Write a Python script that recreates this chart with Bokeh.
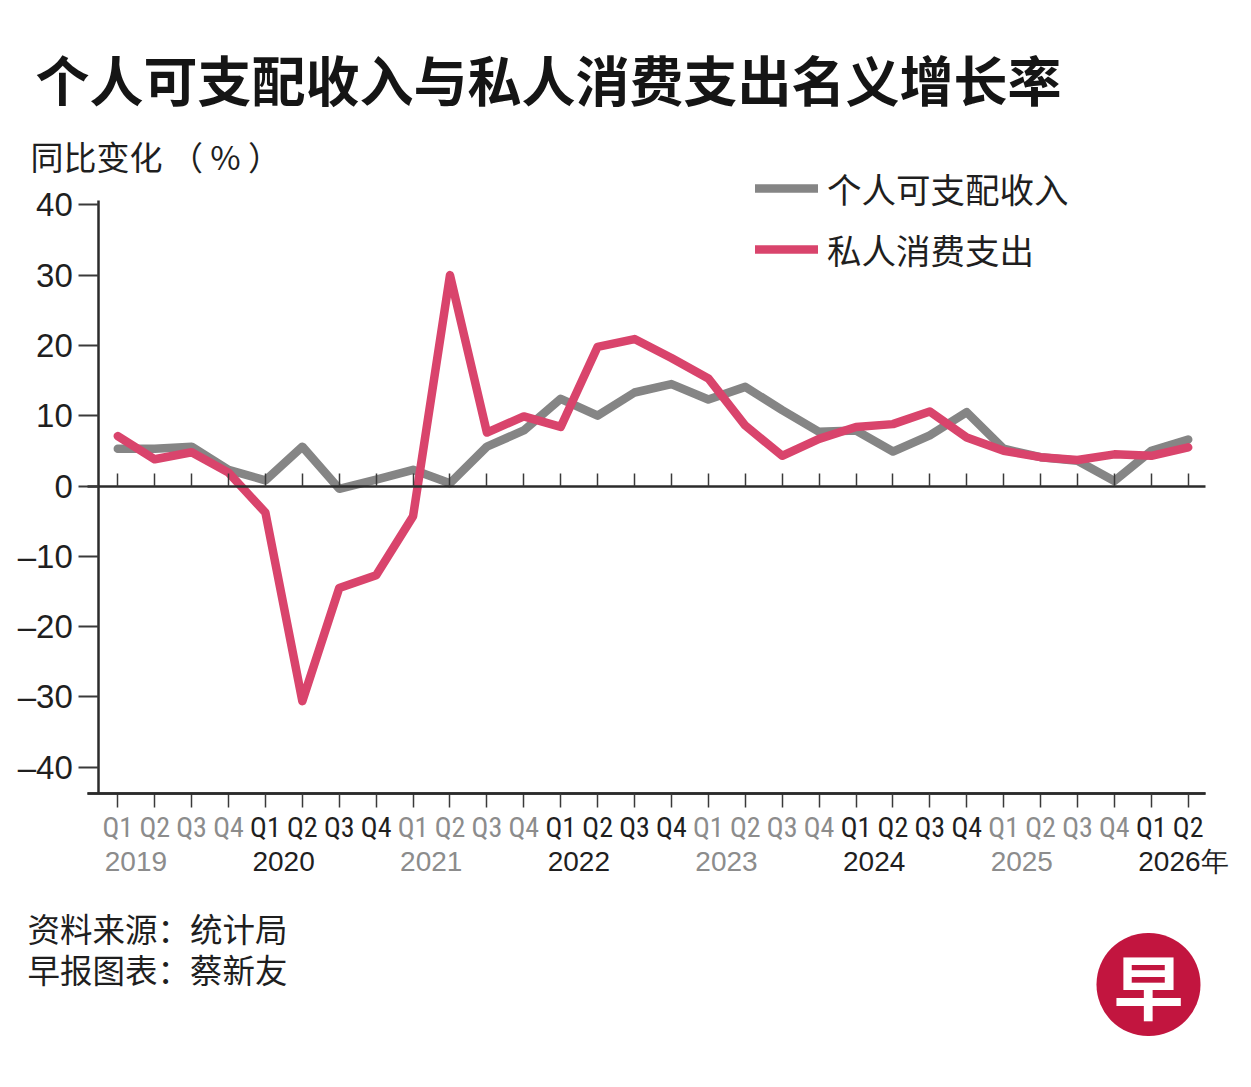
from bokeh.plotting import figure
from bokeh.models import (Label, ColumnDataSource, Legend, LegendItem,
                          FixedTicker, LinearAxis, Range1d)
from bokeh.core.properties import value
from bokeh.embed import file_html
from bokeh.resources import INLINE

# ---------------- data ----------------
quarters = ["Q1", "Q2", "Q3", "Q4"] * 7 + ["Q1", "Q2"]
years = ["2019", "2020", "2021", "2022", "2023", "2024", "2025", "2026年"]
disposable_income = [5.3, 5.3, 5.6, 2.3, 0.8, 5.6, -0.4, 0.9, 2.3, 0.4,
                     5.6, 7.9, 12.4, 10.0, 13.3, 14.5, 12.3, 14.1, 10.8, 7.7,
                     7.9, 4.9, 7.2, 10.5, 5.3, 4.1, 3.6, 0.7, 5.0, 6.6]
private_consumption = [7.1, 3.8, 4.8, 1.9, -3.8, -30.6, -14.5, -12.7, -4.3, 30.0,
                       7.6, 9.9, 8.4, 19.8, 20.9, 18.2, 15.3, 8.6, 4.3, 6.7,
                       8.4, 8.8, 10.6, 6.9, 5.0, 4.1, 3.7, 4.5, 4.3, 5.5]
y_ticks = [-40, -30, -20, -10, 0, 10, 20, 30, 40]
title_text = "个人可支配收入与私人消费支出名义增长率"
y_unit_text = "同比变化 （ % ）"
series_names = ["个人可支配收入", "私人消费支出"]
source_lines = ["资料来源：统计局", "早报图表：蔡新友"]

# ---------------- styles / layout ----------------
W, H = 1235, 1071
GRAY_LINE = "#858585"
PINK_LINE = "#d9446c"
DARK = "#1f1f1f"
LIGHT = "#8c8c8c"
AXIS = "#2b2b2b"
CJK = "Noto Sans CJK SC"
NUM = "Liberation Sans"
NARROW = ("'Liberation Sans Narrow', 'Noto Sans Condensed', 'Roboto Condensed', "
          "'Liberation Sans', sans-serif")

# pixel geometry of the plotting area (canvas covers whole figure)
PX0, DX = 117.3, 36.91        # x pixel of first quarter, pixels per quarter
PY0, DY = 485.5, 7.03         # y pixel of zero, pixels per unit


def xv(px):
    return (px - PX0) / DX


def yv(py):
    return (PY0 - py) / DY


idx = list(range(len(quarters)))
year_of_idx = [i // 4 for i in idx]
gray_idx = [i for i in idx if year_of_idx[i] % 2 == 0]
dark_idx = [i for i in idx if year_of_idx[i] % 2 == 1]
year_x = [4 * k for k in range(len(years))]
year_colors = [LIGHT if k % 2 == 0 else DARK for k in range(len(years))]

p = figure(width=W, height=H, output_backend="svg", toolbar_location=None,
           x_range=Range1d(xv(0), xv(W)), y_range=Range1d(yv(H), yv(0)),
           x_axis_type=None, y_axis_type=None, min_border=0)
p.outline_line_color = None
p.background_fill_color = "white"
p.border_fill_color = "white"

y_lo, y_hi = yv(793), yv(200)
x_lo, x_hi = xv(87), xv(1205)

# y axis
yaxis = LinearAxis(ticker=FixedTicker(ticks=y_ticks), fixed_location=xv(98.3),
                   bounds=(y_lo, y_hi),
                   major_label_overrides={t: (f"–{abs(t)}" if t < 0 else str(t)) for t in y_ticks})
yaxis.axis_line_width = 2.5
yaxis.axis_line_color = AXIS
yaxis.major_tick_line_color = "#3a3a3a"
yaxis.major_tick_line_width = 1.8
yaxis.major_tick_out = 20
yaxis.major_tick_in = 0
yaxis.minor_tick_out = 0
yaxis.minor_tick_in = 0
yaxis.major_label_standoff = 6
yaxis.major_label_text_font = NUM
yaxis.major_label_text_font_size = "33px"
yaxis.major_label_text_color = DARK
p.add_layout(yaxis, "left")


def quarter_axis(ticks, color):
    ax = LinearAxis(ticker=FixedTicker(ticks=ticks), fixed_location=y_lo,
                    bounds=(x_lo, x_hi),
                    major_label_overrides={i: quarters[i] for i in ticks})
    ax.axis_line_width = 2.5
    ax.axis_line_color = AXIS
    ax.major_tick_line_color = "#3a3a3a"
    ax.major_tick_line_width = 1.5
    ax.major_tick_out = 14
    ax.major_tick_in = 0
    ax.minor_tick_out = 0
    ax.minor_tick_in = 0
    ax.major_label_standoff = 3
    ax.major_label_text_font = NARROW
    ax.major_label_text_font_size = "28px"
    ax.major_label_text_color = color
    return ax


p.add_layout(quarter_axis(gray_idx, LIGHT), "below")
p.add_layout(quarter_axis(dark_idx, DARK), "below")

# zero line with upward quarter ticks
zaxis = LinearAxis(ticker=FixedTicker(ticks=idx), fixed_location=0,
                   bounds=(x_lo, x_hi), major_label_overrides={i: "" for i in idx})
zaxis.axis_line_width = 2.5
zaxis.axis_line_color = AXIS
zaxis.major_tick_line_color = "#3a3a3a"
zaxis.major_tick_line_width = 1.5
zaxis.major_tick_out = 0
zaxis.major_tick_in = 13
zaxis.minor_tick_out = 0
zaxis.minor_tick_in = 0
p.add_layout(zaxis, "below")

# series
r_gray = p.line(idx, disposable_income, line_color=GRAY_LINE, line_width=8.5,
                line_join="round", line_cap="round")
r_pink = p.line(idx, private_consumption, line_color=PINK_LINE, line_width=8.5,
                line_join="round", line_cap="round")

# year labels
ysrc = ColumnDataSource(dict(x=year_x, t=years, c=year_colors))
p.text(x="x", y=yv(861), text="t", source=ysrc, x_offset=-13,
       text_color="c", text_font=value(NUM), text_font_size="28px",
       text_align="left", text_baseline="middle")

# legend
legend = Legend(items=[LegendItem(label=series_names[0], renderers=[r_gray]),
                       LegendItem(label=series_names[1], renderers=[r_pink])],
                location=(755, H - 250.7 - 23), orientation="vertical",
                glyph_width=63, glyph_height=30, label_height=30, spacing=11,
                label_standoff=9, padding=0, margin=0,
                border_line_alpha=0, background_fill_alpha=0,
                label_text_font=CJK, label_text_font_size="34.5px",
                label_text_color=DARK)
p.add_layout(legend, "center")

# title, unit, footer, logo (screen units from the bottom-left corner)
p.add_layout(Label(x=35, y=H - 78, x_units="screen", y_units="screen", text=title_text,
                   text_font=CJK, text_font_style="bold", text_font_size="54px",
                   text_color="#151515", text_baseline="middle"))
p.add_layout(Label(x=30, y=H - 155.5, x_units="screen", y_units="screen", text=y_unit_text,
                   text_font=CJK, text_font_size="33px", text_color=DARK,
                   text_baseline="middle"))
p.add_layout(Label(x=27, y=H - 927, x_units="screen", y_units="screen", text=source_lines[0],
                   text_font=CJK, text_font_size="32.5px", text_color=DARK,
                   text_baseline="middle"))
p.add_layout(Label(x=27, y=H - 968, x_units="screen", y_units="screen", text=source_lines[1],
                   text_font=CJK, text_font_size="32.5px", text_color=DARK,
                   text_baseline="middle"))
p.add_layout(Label(x=1148, y=H - 984, x_units="screen", y_units="screen", text="早",
                   text_font=CJK, text_font_style="bold", text_font_size="70px",
                   text_color="white", text_align="center", text_baseline="middle",
                   background_fill_color="#c2153f", padding=(17, 17, 1, 1),
                   border_radius=52))

open("out.html", "w").write(file_html(p, INLINE))
